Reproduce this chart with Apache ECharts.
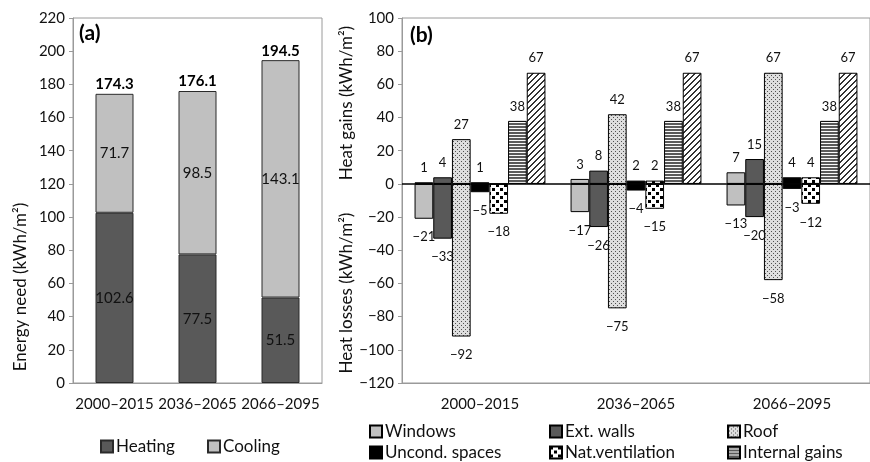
<!DOCTYPE html>
<html><head><meta charset="utf-8">
<script src="https://cdn.jsdelivr.net/npm/echarts@6/dist/echarts.min.js"></script>
<style>html,body{margin:0;padding:0;background:#fff}#c{width:870px;height:462px}</style>
</head><body><div id="c"></div>
<script>
// ---- data ----
var categories = ['2000–2015', '2036–2065', '2066–2095'];
var heating = [102.6, 77.5, 51.5];
var cooling = [71.7, 98.5, 143.1];
var totals = [174.3, 176.1, 194.5];

var windowsGain = [1, 3, 7];
var windowsLoss = [-21, -17, -13];
var wallsGain = [4, 8, 15];
var wallsLoss = [-33, -26, -20];
var roofGain = [27, 42, 67];
var roofLoss = [-92, -75, -58];
var uncondGain = [1, 2, 4];
var uncondLoss = [-5, -4, -3];
var ventGain = [0, 2, 4];
var ventLoss = [-18, -15, -12];
var internalGains = [38, 38, 38];
var solarGains = [67, 67, 67];

var yTicksA = {min: 0, max: 220, interval: 20};
var yTicksB = {min: -120, max: 100, interval: 20};

// ---- patterns ----
function pat(w, h, draw) {
  var c = document.createElement('canvas'); c.width = w; c.height = h;
  var g = c.getContext('2d'); draw(g); return {image: c, repeat: 'repeat'};
}
var roofPat = pat(4, 4, function (g) {
  g.fillStyle = '#dedede'; g.fillRect(0, 0, 4, 4);
  g.fillStyle = '#505050'; g.fillRect(1, 1, 1, 1); g.fillRect(3, 3, 1, 1);
});
var ventPat = pat(8, 8, function (g) {
  g.fillStyle = '#fff'; g.fillRect(0, 0, 8, 8);
  g.fillStyle = '#000'; g.fillRect(0, 0, 3, 3); g.fillRect(4, 4, 3, 3);
});
var internalPat = pat(2, 3, function (g) {
  g.fillStyle = '#5a5a5a'; g.fillRect(0, 0, 2, 2);
  g.fillStyle = '#fafafa'; g.fillRect(0, 2, 2, 1);
});
var solarPat = pat(6, 6, function (g) {
  g.fillStyle = '#fff'; g.fillRect(0, 0, 6, 6);
  g.fillStyle = '#333';
  for (var i = 0; i < 6; i++) { g.fillRect(i, 5 - i, 1, 1); g.fillRect((i + 1) % 6, 5 - i, 1, 1); }
});

var FONT = 'Lato';
function minus(v) { return v < 0 ? '−' + Math.abs(v) : String(v); }

var chart = echarts.init(document.getElementById('c'), null, {renderer: 'canvas'});

function gainSeries(name, data, color, stack, extra) {
  var s = {
    name: name, type: 'bar', xAxisIndex: 1, yAxisIndex: 1, stack: stack,
    data: data, barWidth: 18.7, barGap: '0%',
    itemStyle: {color: color, borderColor: '#000', borderWidth: 1},
    label: {show: true, position: 'top', distance: 8, fontFamily: FONT, fontSize: 13, color: '#111',
      formatter: function (p) { return p.value === 0 ? '' : minus(p.value); }}
  };
  if (extra) for (var k in extra) s[k] = extra[k];
  return s;
}
function lossSeries(name, data, color, stack) {
  return {
    name: name, type: 'bar', xAxisIndex: 1, yAxisIndex: 1, stack: stack,
    data: data, barWidth: 18.7, barGap: '0%',
    itemStyle: {color: color, borderColor: '#000', borderWidth: 1},
    label: {show: true, position: 'bottom', distance: 12, fontFamily: FONT, fontSize: 13, color: '#111',
      formatter: function (p) { return minus(p.value); }}
  };
}

var axisLabelStyle = {fontFamily: FONT, fontSize: 15, color: '#111'};

function oneLegend(name, left, top) {
  return {left: left, top: top, padding: 0, icon: 'rect', itemWidth: 12, itemHeight: 12, itemGap: 0,
    textStyle: {fontFamily: FONT, fontSize: 17, color: '#111', padding: [0, 0, 0, -2]},
    data: [name]};
}

var option = {
  backgroundColor: '#fff',
  animation: false,
  textStyle: {fontFamily: FONT},
  grid: [
    {left: 73, right: 548, top: 18, bottom: 79, show: true, borderColor: '#9a9a9a', borderWidth: 1},
    {left: 402, right: -7, top: 18, bottom: 79, show: true, borderColor: '#9a9a9a', borderWidth: 1}
  ],
  xAxis: [
    {gridIndex: 0, type: 'category', data: categories,
      axisLine: {lineStyle: {color: '#9a9a9a'}}, axisTick: {show: false},
      axisLabel: Object.assign({margin: 14, interval: 0}, axisLabelStyle)},
    {gridIndex: 1, type: 'category', data: categories, position: 'bottom',
      axisLine: {onZero: false, lineStyle: {color: '#9a9a9a'}}, axisTick: {show: false},
      axisLabel: Object.assign({margin: 14, interval: 0}, axisLabelStyle)}
  ],
  yAxis: [
    {gridIndex: 0, type: 'value', min: yTicksA.min, max: yTicksA.max, interval: yTicksA.interval,
      splitLine: {show: false}, axisLine: {show: true, lineStyle: {color: '#9a9a9a'}},
      axisTick: {show: true, length: 4, lineStyle: {color: '#9a9a9a'}},
      axisLabel: Object.assign({margin: 8}, axisLabelStyle)},
    {gridIndex: 1, type: 'value', min: yTicksB.min, max: yTicksB.max, interval: yTicksB.interval,
      splitLine: {show: false}, axisLine: {show: true, onZero: false, lineStyle: {color: '#9a9a9a'}},
      axisTick: {show: true, length: 4, lineStyle: {color: '#9a9a9a'}},
      axisLabel: Object.assign({margin: 8, formatter: function (v) { return minus(v); }}, axisLabelStyle)}
  ],
  legend: [
    oneLegend('Heating', 100, 438),
    oneLegend('Cooling', 207, 438),
    oneLegend('Windows', 369, 423),
    oneLegend('Uncond. spaces', 369, 444),
    oneLegend('Ext. walls', 549, 423),
    oneLegend('Nat.ventilation', 549, 444),
    oneLegend('Roof', 727, 423),
    oneLegend('Internal gains', 727, 444)
  ],
  graphic: [
    {type: 'text', x: 21, y: 287, rotation: Math.PI / 2,
      style: {text: 'Energy need (kWh/m²)', fontFamily: FONT, fontSize: 17, fill: '#111', textAlign: 'center', textVerticalAlign: 'middle'}},
    {type: 'text', x: 347, y: 103, rotation: Math.PI / 2,
      style: {text: 'Heat gains (kWh/m²)', fontFamily: FONT, fontSize: 17, fill: '#111', textAlign: 'center', textVerticalAlign: 'middle'}},
    {type: 'text', x: 347, y: 293, rotation: Math.PI / 2,
      style: {text: 'Heat losses (kWh/m²)', fontFamily: FONT, fontSize: 17, fill: '#111', textAlign: 'center', textVerticalAlign: 'middle'}},
    {type: 'text', x: 79, y: 33,
      style: {text: '(a)', fontFamily: FONT, fontSize: 21, fontWeight: 'bold', fill: '#000', textVerticalAlign: 'middle'}},
    {type: 'text', x: 410, y: 35,
      style: {text: '(b)', fontFamily: FONT, fontSize: 21, fontWeight: 'bold', fill: '#000', textVerticalAlign: 'middle'}}
  ],
  series: [
    {name: 'Heating', type: 'bar', xAxisIndex: 0, yAxisIndex: 0, stack: 'need', data: heating, barWidth: 38,
      itemStyle: {color: '#595959', borderColor: '#2a2a2a', borderWidth: 1},
      label: {show: true, position: 'inside', fontFamily: FONT, fontSize: 15, color: '#111'}},
    {name: 'Cooling', type: 'bar', xAxisIndex: 0, yAxisIndex: 0, stack: 'need', data: cooling, barWidth: 38,
      itemStyle: {color: '#c0c0c0', borderColor: '#2a2a2a', borderWidth: 1},
      label: {show: true, position: 'inside', fontFamily: FONT, fontSize: 15, color: '#111'}},
    {name: 'Total', type: 'bar', xAxisIndex: 0, yAxisIndex: 0, data: totals, barWidth: 38, barGap: '-100%',
      itemStyle: {color: 'rgba(0,0,0,0)'}, z: 1, silent: true,
      label: {show: true, position: 'top', distance: 2, fontFamily: FONT, fontSize: 15, fontWeight: 'bold', color: '#000',
        formatter: function (p) { return p.value.toFixed(1); }}},

    gainSeries('Windows', windowsGain, '#c0c0c0', 'w', {
      markLine: {silent: true, symbol: 'none', label: {show: false},
        lineStyle: {color: '#000', width: 1.5, type: 'solid'}, data: [{yAxis: 0}]}}),
    lossSeries('Windows', windowsLoss, '#c0c0c0', 'w'),
    gainSeries('Ext. walls', wallsGain, '#595959', 'e'),
    lossSeries('Ext. walls', wallsLoss, '#595959', 'e'),
    gainSeries('Roof', roofGain, roofPat, 'r'),
    lossSeries('Roof', roofLoss, roofPat, 'r'),
    gainSeries('Uncond. spaces', uncondGain, '#000', 'u'),
    lossSeries('Uncond. spaces', uncondLoss, '#000', 'u'),
    gainSeries('Nat.ventilation', ventGain, ventPat, 'n'),
    lossSeries('Nat.ventilation', ventLoss, ventPat, 'n'),
    gainSeries('Internal gains', internalGains, internalPat, 'i'),
    gainSeries('Solar gains', solarGains, solarPat, 's')
  ]
};
chart.setOption(option);
</script></body></html>
